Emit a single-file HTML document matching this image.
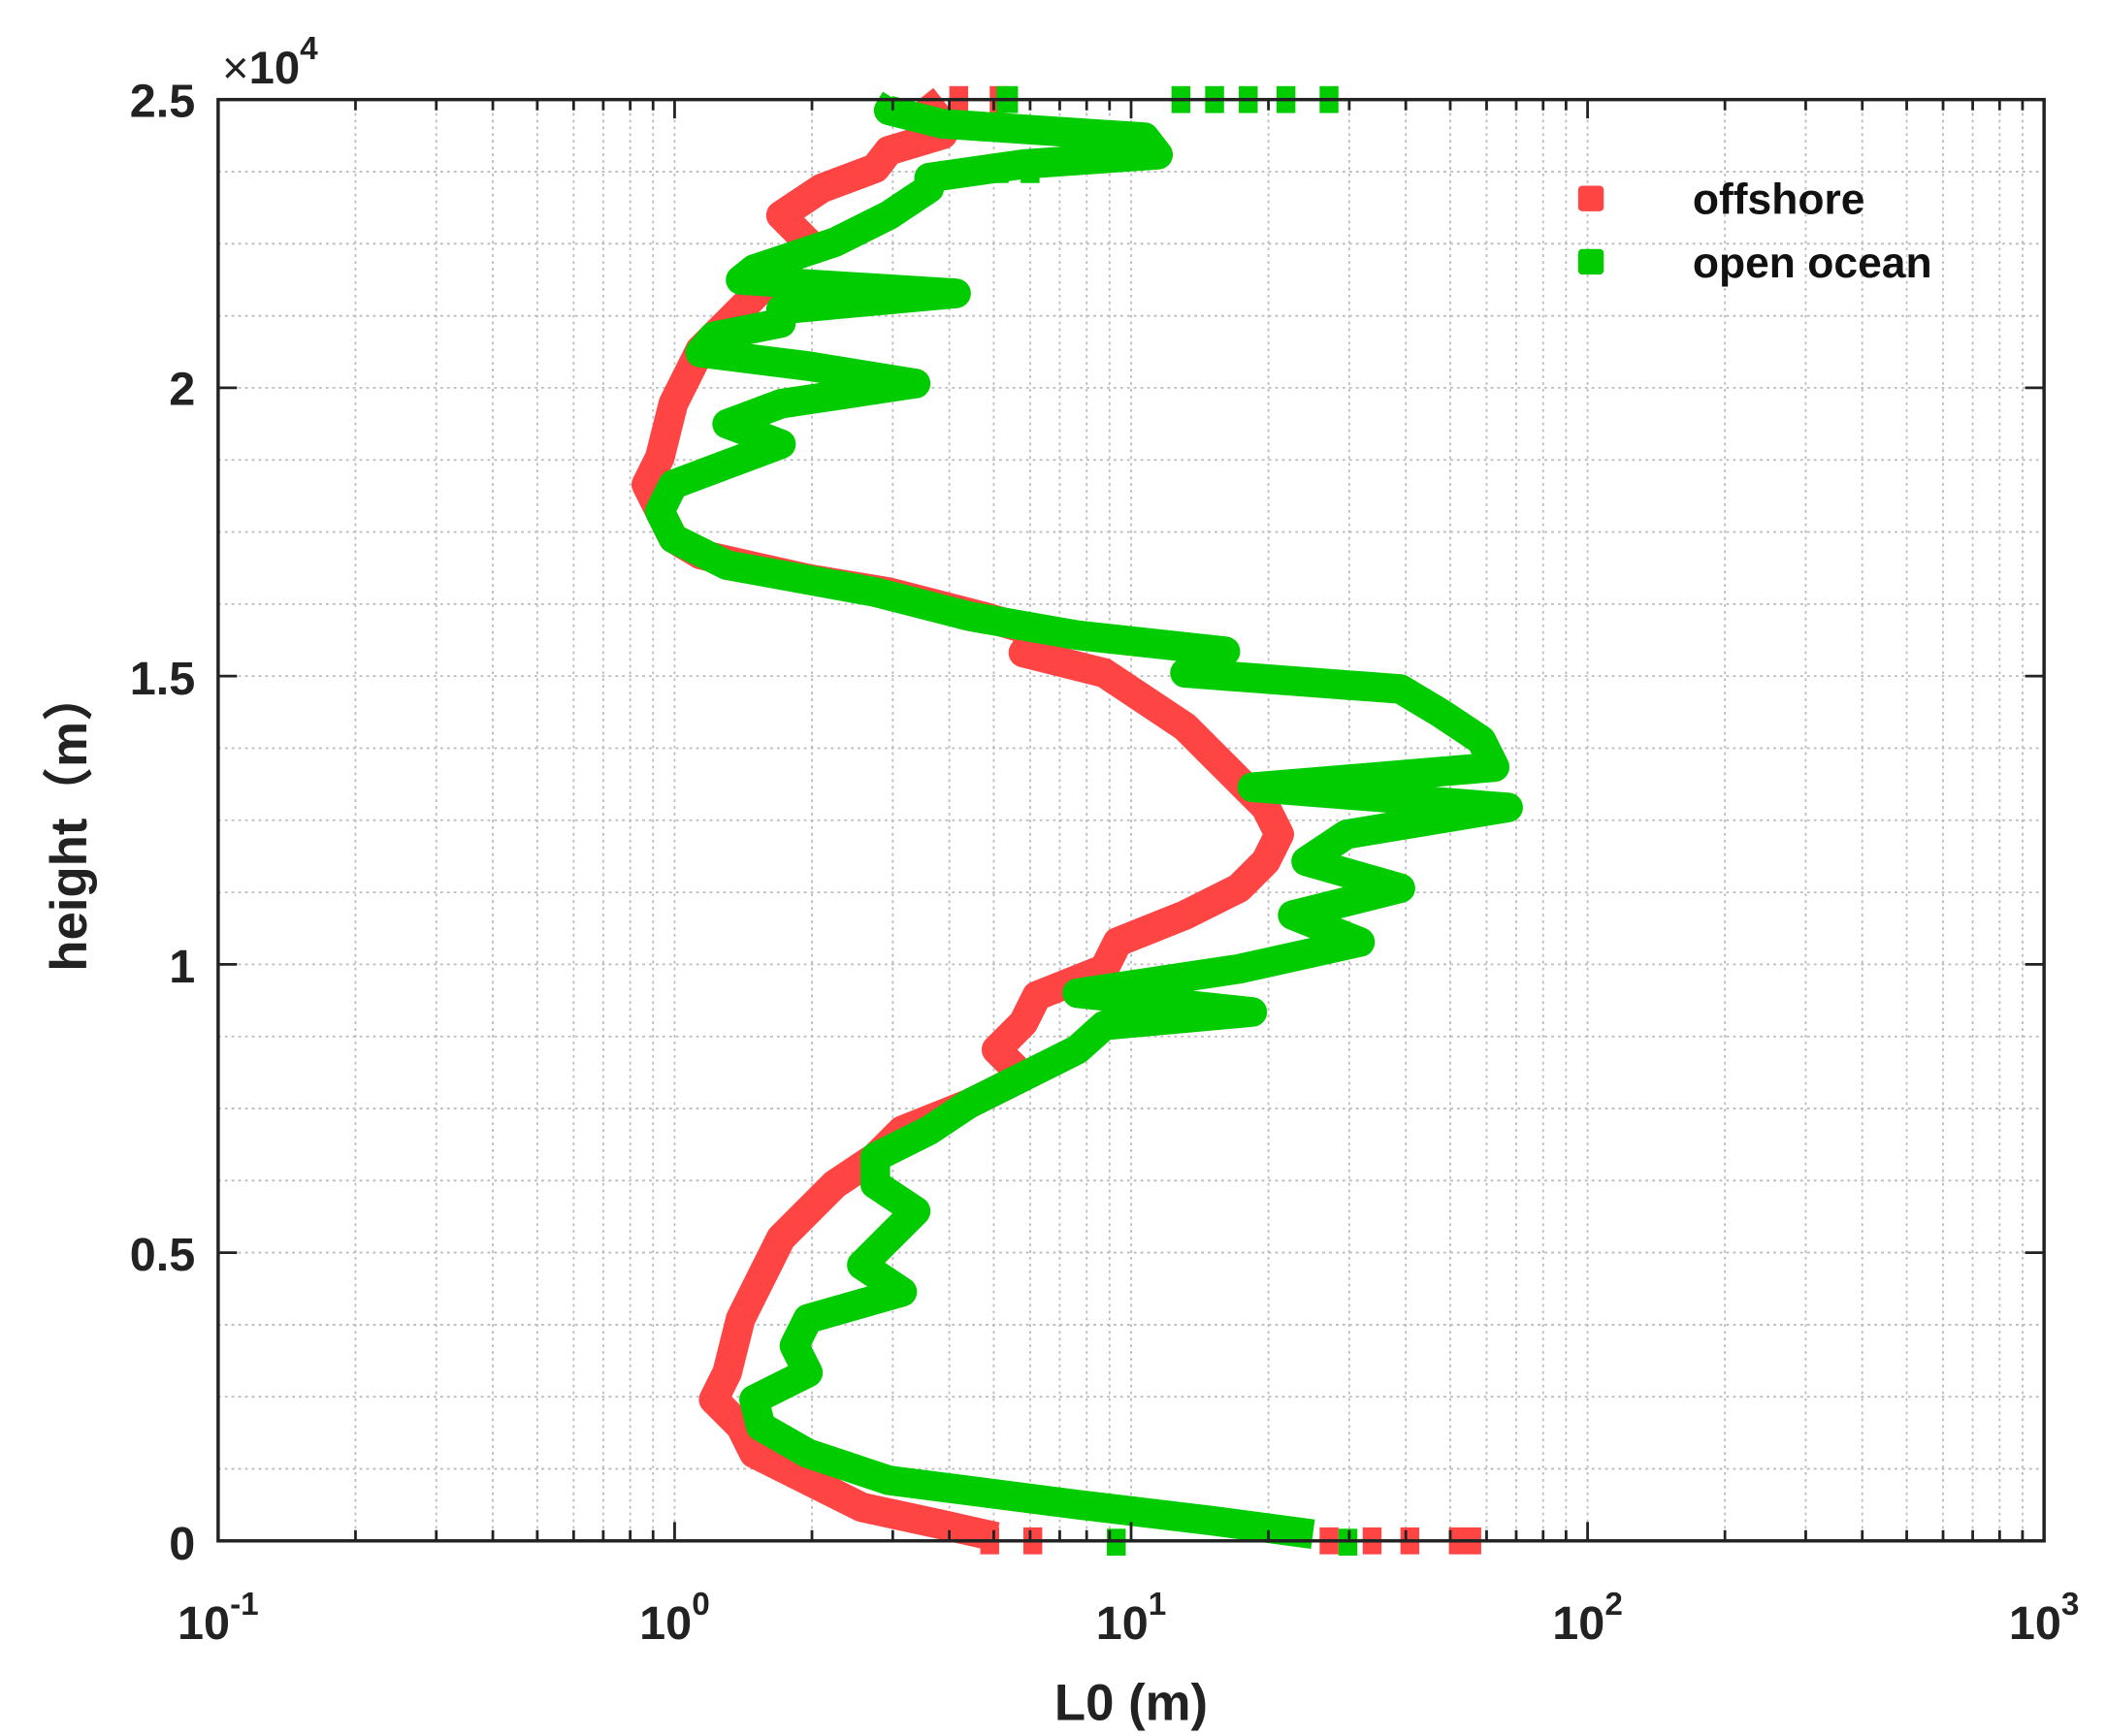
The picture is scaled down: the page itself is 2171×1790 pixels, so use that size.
<!DOCTYPE html>
<html><head><meta charset="utf-8"><style>html,body{margin:0;padding:0;background:#fff}svg{display:block}</style></head>
<body>
<svg width="2171" height="1790" viewBox="0 0 1564 1290" preserveAspectRatio="none" xmlns="http://www.w3.org/2000/svg" font-family="Liberation Sans, Arial, sans-serif">
<rect width="1564" height="1290" fill="#fff"/>
<g stroke="#bbb" stroke-width="1.3" stroke-dasharray="2,3" fill="none">
<path d="M264 74V1145M324 74V1145M366 74V1145M399 74V1145M426 74V1145M448 74V1145M468 74V1145M485 74V1145
M501 74V1145M603 74V1145M663 74V1145M705 74V1145M738 74V1145M765 74V1145M787 74V1145M807 74V1145M824 74V1145
M840 74V1145M942 74V1145M1002 74V1145M1044 74V1145M1077 74V1145M1104 74V1145M1126 74V1145M1146 74V1145M1163 74V1145
M1179 74V1145M1281 74V1145M1341 74V1145M1383 74V1145M1416 74V1145M1443 74V1145M1465 74V1145M1485 74V1145M1502 74V1145"/>
<path d="M162 127.6H1518M162 181.1H1518M162 234.7H1518M162 288.2H1518M162 341.8H1518M162 395.3H1518M162 448.9H1518M162 502.4H1518M162 556H1518M162 609.5H1518M162 663.1H1518M162 716.6H1518M162 770.2H1518M162 823.7H1518M162 877.3H1518M162 930.8H1518M162 984.4H1518M162 1037.9H1518M162 1091.5H1518"/>
</g>
<!-- offshore -->
<g fill="none" stroke="#ff4444" stroke-width="22" stroke-linejoin="round">
<polyline points="700,74 690,82 700,100 660,112 650,125 610,140 580,160 600,180 580,200 560,220 540,240 520,260 510,280 500,300 495,320 490,340 480,360 490,380 500,400 520,412 600,430 660,440 730,458 770,470 760,485 820,500 850,520 880,540 900,560 920,580 940,600 950,620 940,640 920,660 880,680 830,700 820,720 770,740 760,760 740,780 760,800 720,820 670,840 650,860 620,880 600,900 580,920 570,940 560,960 550,980 545,1000 540,1020 530,1040 550,1060 560,1080 600,1100 640,1120 700,1133 740,1142"/>
</g>
<g fill="#ff4444">
<rect x="705" y="64" width="14" height="20"/><rect x="735" y="64" width="14" height="20"/>
<rect x="728" y="1135" width="14" height="20"/><rect x="760" y="1135" width="14" height="20"/><rect x="980" y="1135" width="14" height="20"/><rect x="1012" y="1135" width="14" height="20"/><rect x="1040" y="1135" width="14" height="20"/><rect x="1076" y="1135" width="24" height="20"/>
</g>
<!-- open ocean -->
<g fill="none" stroke="#00cc00" stroke-width="22" stroke-linejoin="round">
<polyline points="665,74 660,82 700,92 850,102 860,115 760,122 690,132 690,140 660,160 620,180 560,200 550,208 710,218 580,230 580,240 530,250 520,262 600,272 680,285 580,300 540,315 580,330 540,345 500,360 490,380 500,400 540,420 650,440 720,458 800,472 910,484 880,500 1040,512 1070,530 1100,550 1110,570 930,585 1120,600 1000,620 970,640 1040,660 960,680 1010,700 920,720 800,738 930,752 820,762 800,780 760,800 720,820 690,840 650,860 650,880 680,900 660,920 640,940 670,960 600,980 590,1000 600,1020 560,1040 565,1060 600,1080 660,1100 800,1118 900,1130 975,1140"/>
</g>
<g fill="#00cc00">
<rect x="740" y="64" width="16" height="20"/><rect x="870" y="64" width="14" height="20"/><rect x="895" y="64" width="14" height="20"/><rect x="920" y="64" width="14" height="20"/><rect x="948" y="64" width="14" height="20"/><rect x="980" y="64" width="14" height="20"/>
<rect x="710" y="118" width="14" height="18"/><rect x="735" y="118" width="14" height="18"/><rect x="758" y="118" width="14" height="18"/>
<rect x="822" y="1136" width="14" height="20"/><rect x="994" y="1136" width="14" height="20"/>
</g>
<!-- axes -->
<rect x="162" y="74" width="1356" height="1071" fill="none" stroke="#222" stroke-width="2.5"/>
<g stroke="#222" stroke-width="2">
<path d="M501 1145v-14M840 1145v-14M1179 1145v-14M501 74v14M840 74v14M1179 74v14"/>
<path d="M264 1145v-8M324 1145v-8M366 1145v-8M399 1145v-8M426 1145v-8M448 1145v-8M468 1145v-8M485 1145v-8M603 1145v-8M663 1145v-8M705 1145v-8M738 1145v-8M765 1145v-8M787 1145v-8M807 1145v-8M824 1145v-8M942 1145v-8M1002 1145v-8M1044 1145v-8M1077 1145v-8M1104 1145v-8M1126 1145v-8M1146 1145v-8M1163 1145v-8M1281 1145v-8M1341 1145v-8M1383 1145v-8M1416 1145v-8M1443 1145v-8M1465 1145v-8M1485 1145v-8M1502 1145v-8"/>
<path d="M264 74v8M324 74v8M366 74v8M399 74v8M426 74v8M448 74v8M468 74v8M485 74v8M603 74v8M663 74v8M705 74v8M738 74v8M765 74v8M787 74v8M807 74v8M824 74v8M942 74v8M1002 74v8M1044 74v8M1077 74v8M1104 74v8M1126 74v8M1146 74v8M1163 74v8M1281 74v8M1341 74v8M1383 74v8M1416 74v8M1443 74v8M1465 74v8M1485 74v8M1502 74v8"/>
<path d="M162 930.8h14M162 716.6h14M162 502.4h14M162 288.2h14M1518 930.8h-14M1518 716.6h-14M1518 502.4h-14M1518 288.2h-14"/>
</g>
<g font-weight="bold" font-size="35" fill="#222" text-anchor="end">
<text x="145" y="1159">0</text><text x="145" y="944">0.5</text><text x="145" y="730">1</text><text x="145" y="516">1.5</text><text x="145" y="301">2</text><text x="145" y="87">2.5</text>
</g>
<text x="165" y="62" font-size="34" fill="#222">×<tspan font-weight="bold">10</tspan><tspan font-size="24" font-weight="bold" dy="-18">4</tspan></text>
<g font-weight="bold" font-size="35" fill="#222" text-anchor="middle">
<text x="162" y="1218">10<tspan font-size="24" dy="-18">-1</tspan></text>
<text x="501" y="1218">10<tspan font-size="24" dy="-18">0</tspan></text>
<text x="840" y="1218">10<tspan font-size="24" dy="-18">1</tspan></text>
<text x="1179" y="1218">10<tspan font-size="24" dy="-18">2</tspan></text>
<text x="1518" y="1218">10<tspan font-size="24" dy="-18">3</tspan></text>
<text x="840" y="1278" font-size="38">L0 (m)</text>
<text transform="translate(64,610) rotate(-90)" font-size="38" font-family="Liberation Sans, Noto Sans CJK SC, sans-serif">height（m）</text>
</g>
<rect x="1172" y="138" width="19" height="19" rx="3" fill="#ff4444"/>
<rect x="1172" y="185" width="19" height="19" rx="3" fill="#00cc00"/>
<g font-weight="bold" font-size="32" fill="#111">
<text x="1257" y="159">offshore</text>
<text x="1257" y="206">open ocean</text>
</g>
</svg>
</body></html>
